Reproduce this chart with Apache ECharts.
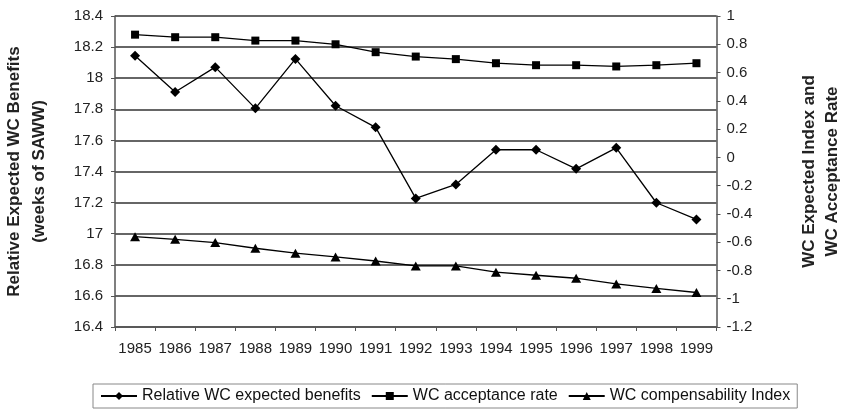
<!DOCTYPE html>
<html>
<head>
<meta charset="utf-8">
<script src="https://cdn.jsdelivr.net/npm/echarts@6/dist/echarts.min.js"></script>
<style>
html,body{margin:0;padding:0;background:#fff;}
#chart{width:845px;height:414px;}
</style>
</head>
<body>
<div id="chart"></div>
<script>
const years = ['1985','1986','1987','1988','1989','1990','1991','1992','1993','1994','1995','1996','1997','1998','1999'];
const benefits = [18.145, 17.911, 18.071, 17.806, 18.124, 17.823, 17.684, 17.227, 17.317, 17.54, 17.54, 17.417, 17.552, 17.199, 17.092];
const acceptance = [0.868, 0.85, 0.85, 0.826, 0.826, 0.80, 0.744, 0.713, 0.695, 0.666, 0.652, 0.652, 0.643, 0.652, 0.666];
const compensability = [-0.561, -0.580, -0.603, -0.643, -0.678, -0.704, -0.733, -0.768, -0.768, -0.812, -0.834, -0.855, -0.895, -0.927, -0.956];
const seriesNames = ['Relative WC expected benefits', 'WC acceptance rate', 'WC compensability Index'];
const leftTitle = 'Relative Expected WC Benefits\n(weeks of SAWW)';
const rightTitle = 'WC Expected Index and\nWC Acceptance Rate';

const FONT = 'Arial, "Liberation Sans", sans-serif';
const chart = echarts.init(document.getElementById('chart'), null, {renderer: 'canvas'});
const lineStyle = {color: '#000', width: 1.3};
chart.setOption({
  animation: false,
  backgroundColor: '#fff',
  textStyle: {fontFamily: FONT},
  grid: {left: 115, right: 128.5, top: 16, bottom: 87, containLabel: false, outerBoundsMode: 'none'},
  legend: {
    data: seriesNames,
    left: 93, top: 384,
    padding: [4, 7],
    itemWidth: 36, itemHeight: 10, itemGap: 10,
    borderColor: '#888', borderWidth: 1,
    textStyle: {fontSize: 16, color: '#111', fontFamily: FONT}
  },
  xAxis: {
    type: 'category', data: years, boundaryGap: true,
    axisLine: {onZero: false, lineStyle: {color: '#555', width: 1.5}},
    axisTick: {show: true, length: 4, inside: false, lineStyle: {color: '#555', width: 1}},
    axisLabel: {fontSize: 15, color: '#222', margin: 14, fontFamily: FONT, interval: 0},
    splitLine: {show: false}
  },
  yAxis: [{
    type: 'value', min: 16.4, max: 18.4, interval: 0.2, position: 'left',
    name: leftTitle, nameLocation: 'middle', nameRotate: 90, nameGap: 63,
    nameTextStyle: {fontSize: 17, fontWeight: 'bold', color: '#222', lineHeight: 25, fontFamily: FONT},
    axisLine: {show: true, lineStyle: {color: '#555', width: 1.5}},
    axisTick: {show: true, length: 4, lineStyle: {color: '#555', width: 1}},
    axisLabel: {fontSize: 15, color: '#222', margin: 12, fontFamily: FONT},
    splitLine: {show: true, lineStyle: {color: '#333', width: 1.6}}
  }, {
    type: 'value', min: -1.2, max: 1, interval: 0.2, position: 'right',
    name: rightTitle, nameLocation: 'middle', nameRotate: 90, nameGap: 81,
    nameTextStyle: {fontSize: 17, fontWeight: 'bold', color: '#222', lineHeight: 23, fontFamily: FONT},
    axisLine: {show: true, lineStyle: {color: '#555', width: 1.5}},
    axisTick: {show: true, length: 4, lineStyle: {color: '#555', width: 1}},
    axisLabel: {fontSize: 15, color: '#222', margin: 10, fontFamily: FONT},
    splitLine: {show: false}
  }],
  series: [{
    name: seriesNames[0], type: 'line', yAxisIndex: 0, data: benefits,
    symbol: 'diamond', symbolSize: 10, showAllSymbol: true,
    lineStyle: lineStyle, itemStyle: {color: '#000'}
  }, {
    name: seriesNames[1], type: 'line', yAxisIndex: 1, data: acceptance,
    symbol: 'rect', symbolSize: 8, showAllSymbol: true,
    lineStyle: lineStyle, itemStyle: {color: '#000'}
  }, {
    name: seriesNames[2], type: 'line', yAxisIndex: 1, data: compensability,
    symbol: 'triangle', symbolSize: [10, 9], showAllSymbol: true,
    lineStyle: lineStyle, itemStyle: {color: '#000'}
  }]
});
</script>
</body>
</html>
